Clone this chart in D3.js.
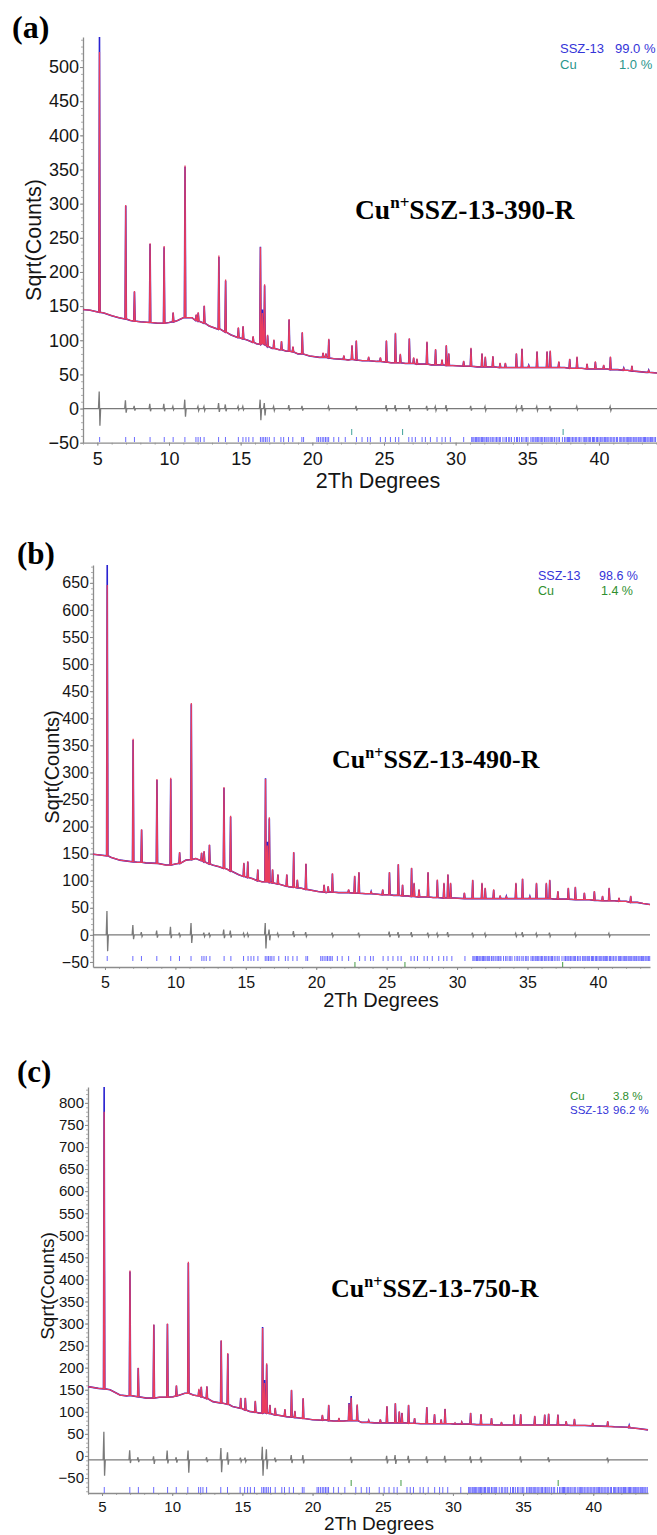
<!DOCTYPE html>
<html><head><meta charset="utf-8">
<script src="https://cdn.jsdelivr.net/npm/d3@7"></script>
<style>body{margin:0;background:#fff}svg{display:block}</style>
</head><body><svg id="c" width="657" height="1535"></svg>
<script>
// ---------- DATA ----------
const xTickVals = [5,10,15,20,25,30,35,40];
const yTicksA = [-50,0,50,100,150,200,250,300,350,400,450,500];
const yTicksB = [-50,0,50,100,150,200,250,300,350,400,450,500,550,600,650];
const yTicksC = [-50,0,50,100,150,200,250,300,350,400,450,500,550,600,650,700,750,800];

// background knots of the observed profile [2theta, sqrt(counts)]
const bgA = [[4.0,145],[4.5,144],[4.9,142],[5.45,140],[6.0,136],[6.5,133],[7.3,129],[8.0,127],[9.2,125],[10.0,126],[10.6,129],[11.0,133],[11.6,133],[12.2,127],[12.8,121],[13.6,116],[14.3,108],[15.5,100],[16.1,95],[17.2,88],[17.7,86],[18.2,84],[19.0,80],[19.8,77],[20.5,75],[21.5,73],[22.5,71],[23.5,70],[24.5,69],[25.5,67],[26.5,66],[27.6,65],[28.3,64],[29.8,63],[30.8,62],[31.5,61],[32.4,61],[33.8,60],[35.4,60],[36.9,60],[37.6,60],[38.8,59],[39.5,58],[40.6,58],[41.3,57],[42.0,56],[42.8,54],[43.3,53],[44.05,52]];
// peaks [2theta, base, observed top, calculated top]
const peaksA = [[5.15,141,544,522],[6.98,131,297,298],[7.59,128,171,172],[8.68,126,241,242],[9.66,125,236,238],[10.29,127,140,141],[11.12,133,354,356],[11.9,129,137,138],[12.04,128,140,141],[12.46,125,150,151],[13.48,116,222,224],[13.95,112,187,189],[14.84,104,118,119],[15.17,102,120,121],[15.87,97,105,106],[16.38,94,237,236],[16.52,95,145,140],[16.67,94,180,182],[16.88,91,107,108],[17.32,88,100,101],[17.85,86,98,99],[18.38,84,130,131],[18.65,83,90,91],[19.3,80,111,112],[20.75,75,81,82],[20.95,75,80,81],[21.15,74,101,102],[22.2,72,77,78],[22.77,72,92,93],[23.07,71,99,100],[23.93,70,75,76],[24.75,69,74,75],[25.17,68,99,100],[25.8,67,110,111],[26.14,67,79,80],[26.77,66,102,103],[27.07,66,74,75],[27.3,65,72,73],[28.0,65,97,98],[28.6,64,86,87],[29.05,64,71,72],[29.35,63,92,93],[29.52,63,80,81],[30.56,62,69,70],[31.07,62,88,89],[31.84,61,80,81],[32.07,61,75,76],[32.6,61,76,77],[33.1,60,66,67],[33.47,60,66,67],[34.24,60,80,81],[34.63,60,87,88],[35.1,60,63,64],[35.68,60,83,84],[36.38,60,83,84],[36.6,60,84,85],[37.2,60,68,69],[37.96,59,72,73],[38.47,59,75,76],[39.17,58,65,66],[39.75,58,68,69],[40.33,58,63,64],[40.8,57,75,76],[41.73,56,59,60],[42.3,55,62,63],[43.47,53,56,57]];
// difference curve spikes [2theta, high, low]
const diffA = [[5.15,25,-25],[6.98,12,-6],[7.59,4,-3],[8.68,7,-4],[9.66,7,-4],[10.29,3,-2],[11.12,13,-12],[12.04,3,-3],[12.46,3,-3],[13.48,8,-5],[13.95,6,-4],[14.84,3,-2],[15.17,3,-2],[16.38,13,-17],[16.67,8,-10],[17.32,3,-3],[18.38,5,-3],[19.3,4,-3],[21.15,3,-2],[23.07,4,-3],[25.17,5,-4],[25.8,5,-4],[26.77,5,-4],[28.0,4,-3],[28.6,3,-3],[29.35,5,-4],[31.07,4,-3],[32.07,3,-3],[34.24,3,-3],[34.63,5,-4],[35.68,3,-3],[36.6,4,-4],[38.47,3,-2],[40.8,3,-3]];

const bgB = [[4.15,149],[4.8,147],[5.45,143],[6.06,138],[7.3,134],[7.9,133],[9.34,129],[10.0,131],[10.75,138],[11.45,141],[12.63,129],[13.1,126],[13.7,121],[14.5,111],[15.45,104],[16.15,98],[17.09,95],[18.03,89],[18.97,86],[20.14,80],[20.7,78],[21.6,78],[22.0,78],[23.5,76],[24.4,75],[25.5,73],[26.5,72],[27.6,70],[28.3,69],[29.8,68],[30.8,67],[32.3,67],[33.8,67],[35.4,67],[36.9,66],[37.6,66],[38.8,65],[39.4,65],[40.6,63],[41.2,63],[42.0,62],[42.8,60],[43.2,58],[43.7,56]];
const peaksB = [[5.16,146,683,646],[7.0,135,360,362],[7.6,134,194,195],[8.69,132,286,288],[9.67,129,288,290],[10.3,132,152,153],[11.13,139,426,428],[11.86,137,151,152],[12.04,135,154,155],[12.42,131,166,167],[13.45,123,271,273],[13.92,118,218,220],[14.86,108,132,133],[15.14,106,135,136],[15.85,100,120,121],[16.4,98,289,288],[16.53,98,172,165],[16.67,97,215,217],[16.9,96,120,121],[17.28,94,111,112],[17.91,90,111,112],[18.4,88,152,153],[18.66,87,101,102],[19.27,84,131,132],[20.56,79,92,93],[20.85,79,89,90],[21.15,79,113,114],[22.3,78,83,84],[22.73,77,108,109],[23.03,77,115,116],[23.9,76,80,81],[24.72,74,83,84],[25.2,74,115,116],[25.83,73,130,131],[26.13,72,92,93],[26.77,71,123,124],[26.95,71,95,96],[27.3,70,83,84],[27.94,70,115,116],[28.6,69,101,102],[29.07,68,95,96],[29.35,68,111,112],[29.54,68,95,96],[30.52,67,77,78],[31.11,67,101,102],[31.77,67,95,96],[32.0,67,86,87],[32.6,67,83,84],[33.06,67,72,73],[33.5,67,71,72],[34.18,67,95,96],[34.65,67,103,104],[35.17,67,71,72],[35.64,67,95,96],[36.34,67,95,96],[36.58,67,101,102],[37.16,66,80,81],[37.9,66,86,87],[38.4,65,88,89],[39.04,65,77,78],[39.75,64,80,81],[40.33,63,71,72],[40.8,63,86,87],[41.5,62,68,69],[42.33,60,71,72]];
const diffB = [[5.16,44,-30],[7.0,18,-8],[7.6,5,-3],[8.69,8,-5],[9.67,15,-6],[10.3,4,-3],[11.13,22,-15],[12.04,4,-3],[12.42,4,-3],[13.45,10,-6],[13.92,8,-5],[14.86,3,-3],[15.14,3,-3],[16.4,22,-25],[16.67,10,-10],[17.28,3,-3],[18.4,7,-4],[19.27,5,-3],[21.15,4,-3],[23.03,4,-3],[25.2,6,-4],[25.83,5,-5],[26.77,5,-4],[27.94,4,-3],[28.6,3,-3],[29.35,5,-4],[31.11,4,-3],[32.0,3,-3],[34.18,3,-3],[34.65,5,-4],[35.64,3,-3],[36.58,4,-3],[38.4,3,-3],[40.8,3,-3]];

const bgC = [[4.0,157],[4.74,153],[5.57,150],[6.28,138],[6.75,136],[8.17,131],[9.1,133],[10.06,134],[10.9,142],[11.5,138],[12.9,123],[14.3,112],[15.5,101],[16.2,97],[17.4,93],[18.1,89],[19.04,86],[20.0,82],[20.9,82],[21.5,79],[22.2,79],[23.5,76],[24.4,75],[25.6,75],[26.6,75],[27.7,73],[28.4,73],[29.8,73],[30.4,72],[31.7,71],[33.0,70],[33.9,70],[35.3,70],[36.2,70],[37.1,70],[37.8,70],[38.4,69],[39.4,69],[40.1,68],[41.5,66],[42.45,65],[43.2,62],[43.9,59]];
const peaksC = [[5.15,152,836,780],[6.99,137,418,420],[7.58,134,199,200],[8.69,131,297,298],[9.66,133,299,300],[10.3,136,159,160],[11.15,142,437,440],[11.9,136,150,152],[12.07,134,156,157],[12.47,130,157,158],[13.49,120,261,262],[13.96,117,231,233],[14.88,108,131,132],[15.21,104,131,132],[15.92,99,124,125],[16.44,97,292,290],[16.58,98,172,165],[16.73,97,207,210],[16.96,96,115,116],[17.34,93,108,109],[18.03,90,105,106],[18.5,88,149,150],[18.74,87,101,102],[19.33,85,130,131],[20.7,81,92,93],[21.15,80,115,116],[21.88,79,85,86],[22.6,80,120,118],[22.75,80,136,132],[23.18,80,115,117],[24.0,76,80,81],[24.83,75,82,83],[25.3,75,112,113],[25.9,75,119,120],[26.18,75,100,101],[26.37,75,97,98],[26.84,74,115,116],[27.27,74,85,86],[28.14,73,110,111],[28.69,73,94,95],[29.16,73,82,83],[29.44,73,106,107],[30.15,72,74,75],[30.63,72,76,77],[31.26,72,97,98],[32.0,71,94,95],[32.75,71,85,86],[33.46,70,76,77],[34.36,70,93,94],[34.83,70,94,95],[35.83,70,90,91],[36.54,70,93,94],[36.82,70,95,96],[37.48,70,93,94],[38.07,70,78,79],[38.66,69,83,84],[39.96,68,74,75],[41.03,67,78,79],[42.56,64,69,70]];
const diffC = [[5.15,55,-45],[6.99,13,-16],[7.58,-3,-14],[8.69,-1,-18],[9.66,12,-17],[10.3,-3,-15],[11.15,12,-38],[12.47,-3,-14],[13.49,18,-37],[13.96,8,-20],[14.88,-4,-13],[15.21,-4,-13],[16.44,21,-45],[16.73,15,-30],[17.34,-4,-14],[18.5,2,-16],[19.33,2,-17],[22.75,-2,-16],[25.3,0,-17],[25.9,2,-18],[26.84,0,-16],[28.14,-1,-16],[29.44,0,-15],[31.26,-1,-16],[32.0,-2,-15],[34.83,-1,-15],[36.82,-3,-14],[41.03,-4,-13]];
const diffBaseA = 0, diffBaseB = 0, diffBaseC = -9;

// reflection tick positions
const sszTicks = [5.16,6.98,7.59,8.68,9.67,10.29,11.11,11.88,12.03,12.19,12.45,13.46,13.94,14.84,15.16,15.37,15.57,15.86,16.38,16.5,16.61,16.73,16.85,17.0,17.34,17.81,18.0,18.34,18.64,19.27,19.39,20.32,20.43,20.56,20.69,20.8,20.92,21.03,21.14,21.5,21.84,22.3,23.08,23.47,23.86,24.05,24.75,25.1,25.45,25.8,26.03,26.73,26.96,27.19,27.66,27.89,28.24,28.7,29.05,29.28,29.63,30.56,31.12,31.2,31.28,31.38,31.45,31.55,31.62,31.7,31.8,31.88,31.97,32.05,32.15,32.25,32.32,32.45,32.55,32.62,32.75,32.85,32.95,33.05,33.12,33.3,33.45,33.55,33.7,33.78,33.9,34.1,34.25,34.32,34.45,34.6,34.7,34.85,34.95,35.05,35.25,35.35,35.45,35.55,35.62,35.72,35.8,35.9,36.0,36.08,36.2,36.3,36.38,36.5,36.6,36.7,36.78,36.9,37.02,37.15,37.25,37.45,37.6,37.7,37.8,37.88,37.95,38.05,38.15,38.25,38.35,38.42,38.55,38.65,38.75,38.9,39.0,39.08,39.15,39.25,39.35,39.42,39.55,39.62,39.7,39.82,39.9,40.0,40.1,40.2,40.28,40.38,40.45,40.55,40.62,40.7,40.82,40.9,41.0,41.1,41.22,41.3,41.45,41.52,41.6,41.7,41.8,41.9,41.98,42.05,42.15,42.22,42.3,42.4,42.5,42.58,42.65,42.75,42.85,42.92,43.0,43.1,43.18,43.25,43.35,43.42,43.5,43.6,43.68,43.75,43.85,43.95];
const cuTicks = [22.75,26.3,37.5];

const legendNamesA = ['SSZ-13','Cu'], legendValsA = ['99.0 %','1.0 %'];
const legendNamesB = ['SSZ-13','Cu'], legendValsB = ['98.6 %','1.4 %'];
const legendNamesC = ['Cu','SSZ-13'], legendValsC = ['3.8 %','96.2 %'];
const sampleNames = ['SSZ-13-390-R','SSZ-13-490-R','SSZ-13-750-R'];
const panelLetters = ['(a)','(b)','(c)'];

// ---------- LAYOUT ----------
const BLUE='#3434d8', TEAL='#2a968c', GREEN='#2f8f2f';
const panels = [
 {bg:bgA,peaks:peaksA,diff:diffA,diffBase:diffBaseA,yTicks:yTicksA,
  xDom:[4,44.05],xRange:[83,657],yDom:[-50,544],yRange:[442.7,37],
  tickFont:18,xLabOff:22.5,titleFont:21.5,xTitle:[378,488],yTitle:[33,240],
  letter:[12,38,32],sample:[355,219,27.5],
  leg:{names:legendNamesA,vals:legendValsA,colors:[BLUE,TEAL],nx:560,vx:[615,619],ys:[53,69],fs:13},
  sszRow:[437,442],cuRow:[429,435],cuColor:TEAL},
 {bg:bgB,peaks:peaksB,diff:diffB,diffBase:diffBaseB,yTicks:yTicksB,
  xDom:[4.15,43.7],xRange:[93,650],yDom:[-59.3,683],yRange:[967,565],
  tickFont:16,xLabOff:21,titleFont:20,xTitle:[381,1007],yTitle:[52,767],
  letter:[17,564,31],sample:[332,768,26],
  leg:{names:legendNamesB,vals:legendValsB,colors:[BLUE,GREEN],nx:538,vx:[599,601],ys:[580,595],fs:12.5},
  sszRow:[956,961],cuRow:[962,967],cuColor:GREEN},
 {bg:bgC,peaks:peaksC,diff:diffC,diffBase:diffBaseC,yTicks:yTicksC,
  xDom:[4,43.9],xRange:[88,648],yDom:[-84,836],yRange:[1493,1087],
  tickFont:15,xLabOff:19,titleFont:19,xTitle:[379,1530],yTitle:[47,1286],
  letter:[17,1082,31],sample:[331,1297,26],
  leg:{names:legendNamesC,vals:legendValsC,colors:[GREEN,BLUE],nx:570,vx:[613,613],ys:[1100,1114],fs:11.5},
  sszRow:[1487,1493],cuRow:[1480,1486],cuColor:GREEN}
];

const SANS='"Liberation Sans", Arial, Helvetica, sans-serif';
const SERIF='"Liberation Serif", "Times New Roman", Times, serif';
const svg = d3.select('#c');
svg.append('rect').attr('width',657).attr('height',1535).attr('fill','#fff');

function profile(bg, peaks, k){
  const hw = 0.045;
  const pts = bg.filter(b => !peaks.some(p => Math.abs(p[0]-b[0]) < hw*1.5)).map(b => [b[0], b[1]]);
  peaks.forEach(p => { pts.push([p[0]-hw, p[1]], [p[0], p[k]], [p[0]+hw, p[1]]); });
  pts.sort((a,b) => a[0]-b[0]);
  return pts;
}
function diffPts(spikes, base, dom){
  const pts = [[dom[0], base]];
  spikes.forEach(s => { pts.push([s[0]-0.07, base],[s[0]-0.02, s[1]],[s[0]+0.03, s[2]],[s[0]+0.08, base]); });
  pts.push([dom[1], base]);
  return pts;
}

panels.forEach((p, i) => {
  const x = d3.scaleLinear().domain(p.xDom).range(p.xRange);
  const y = d3.scaleLinear().domain(p.yDom).range(p.yRange);
  const g = svg.append('g');
  const left = p.xRange[0], bottom = p.yRange[0];

  // minor ticks
  const ym = g.append('g').attr('transform',`translate(${left},0)`)
    .call(d3.axisLeft(y).tickValues(d3.range(Math.ceil(p.yDom[0]/10)*10, p.yDom[1], 10)).tickSize(2).tickFormat('').tickSizeOuter(0));
  ym.select('.domain').remove(); ym.selectAll('line').attr('stroke','#b0b0b0');
  const xm = g.append('g').attr('transform',`translate(0,${bottom})`)
    .call(d3.axisBottom(x).tickValues(d3.range(Math.ceil(p.xDom[0]), p.xDom[1], 1)).tickSize(2).tickFormat('').tickSizeOuter(0));
  xm.select('.domain').remove(); xm.selectAll('line').attr('stroke','#b0b0b0');

  // major axes
  const ya = g.append('g').attr('transform',`translate(${left},0)`)
    .call(d3.axisLeft(y).tickValues(p.yTicks).tickSize(3).tickPadding(1).tickSizeOuter(0));
  ya.select('.domain').attr('stroke','#8c8c8c').attr('stroke-width',1.3);
  ya.selectAll('.tick line').attr('stroke','#8c8c8c');
  ya.selectAll('text').attr('font-family',SANS).attr('font-size',p.tickFont).attr('fill','#151515');
  const xa = g.append('g').attr('transform',`translate(0,${bottom})`)
    .call(d3.axisBottom(x).tickValues(xTickVals).tickSize(3).tickSizeOuter(0));
  xa.select('.domain').attr('stroke','#8c8c8c').attr('stroke-width',1.3);
  xa.selectAll('.tick line').attr('stroke','#8c8c8c');
  xa.selectAll('text').attr('font-family',SANS).attr('font-size',p.tickFont).attr('fill','#151515')
    .attr('y',p.xLabOff).attr('dy',0);

  // reflection ticks
  g.selectAll('line.ssz').data(sszTicks.filter(t => t>=p.xDom[0] && t<=p.xDom[1])).join('line').attr('class','ssz')
    .attr('x1',d=>x(d)).attr('x2',d=>x(d)).attr('y1',p.sszRow[0]).attr('y2',p.sszRow[1])
    .attr('stroke','#5a5aff').attr('stroke-width',0.9);
  g.selectAll('line.cu').data(cuTicks).join('line').attr('class','cu')
    .attr('x1',d=>x(d)).attr('x2',d=>x(d)).attr('y1',p.cuRow[0]).attr('y2',p.cuRow[1])
    .attr('stroke',p.cuColor).attr('stroke-width',0.9);

  const line = d3.line().x(d=>x(d[0])).y(d=>y(d[1]));
  // difference
  g.append('path').attr('d', line(diffPts(p.diff, p.diffBase, p.xDom)))
    .attr('fill','none').attr('stroke','#7a7a7a').attr('stroke-width',1.3);
  // observed & calculated
  g.append('path').attr('d', line(profile(p.bg, p.peaks, 2)))
    .attr('fill','none').attr('stroke','#2a22d0').attr('stroke-width',1.6);
  g.append('path').attr('d', line(profile(p.bg, p.peaks, 3)))
    .attr('fill','none').attr('stroke','#ea3d5e').attr('stroke-width',1.25);

  // titles
  g.append('text').attr('x',p.xTitle[0]).attr('y',p.xTitle[1]).attr('text-anchor','middle')
    .attr('font-family',SANS).attr('font-size',p.titleFont).attr('fill','#151515').text('2Th Degrees');
  g.append('text').attr('transform',`translate(${p.yTitle[0]},${p.yTitle[1]}) rotate(-90)`).attr('text-anchor','middle')
    .attr('dy','0.35em').attr('font-family',SANS).attr('font-size',p.titleFont).attr('fill','#151515').text('Sqrt(Counts)');

  // panel letter
  g.append('text').attr('x',p.letter[0]).attr('y',p.letter[1]).attr('font-family',SERIF).attr('font-weight','bold')
    .attr('font-size',p.letter[2]).attr('fill','#000').text(panelLetters[i]);
  // sample label
  const t = g.append('text').attr('x',p.sample[0]).attr('y',p.sample[1]).attr('font-family',SERIF)
    .attr('font-weight','bold').attr('font-size',p.sample[2]).attr('fill','#000');
  t.append('tspan').text('Cu');
  t.append('tspan').attr('font-size','62%').attr('dy','-0.62em').text('n+');
  t.append('tspan').attr('dy','0.385em').text(sampleNames[i]);

  // legend
  p.leg.names.forEach((n, j) => {
    g.append('text').attr('x',p.leg.nx).attr('y',p.leg.ys[j]).attr('font-family',SANS).attr('font-size',p.leg.fs)
      .attr('fill',p.leg.colors[j]).text(n);
    g.append('text').attr('x',p.leg.vx[j]).attr('y',p.leg.ys[j]).attr('font-family',SANS).attr('font-size',p.leg.fs)
      .attr('fill',p.leg.colors[j]).text(p.leg.vals[j]);
  });
});
</script></body></html>
